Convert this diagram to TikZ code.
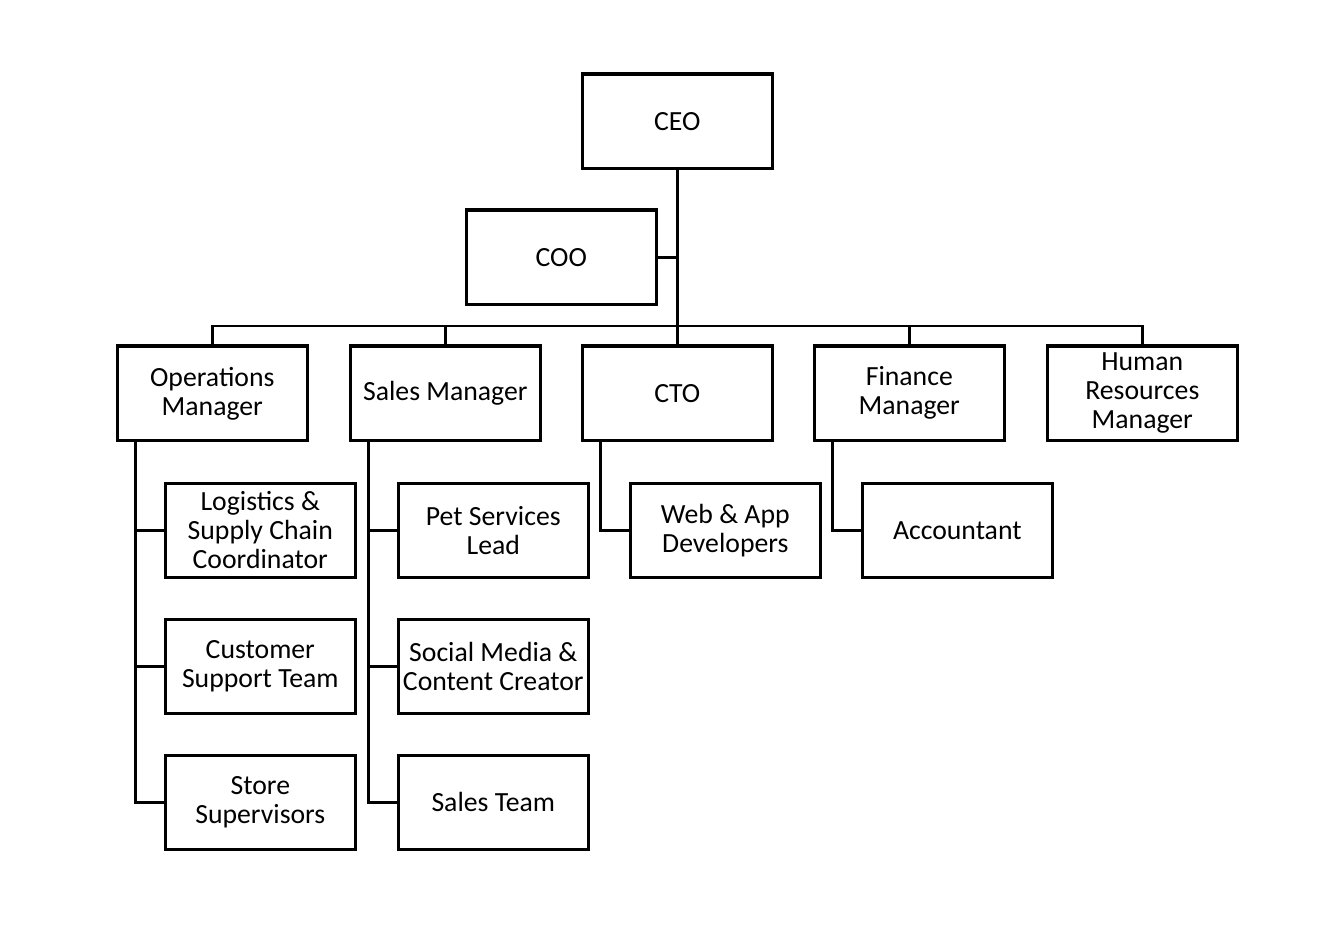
\documentclass[tikz,border=0pt]{standalone}
\usepackage{fontspec}
\setmainfont{Carlito}
\begin{document}
\begin{tikzpicture}[x=0.75pt,y=-0.75pt,
  bx/.style={draw,line width=2.3pt,minimum width=142.9pt,minimum height=70.9pt,inner sep=0pt,align=center,font=\fontsize{20.8}{21.75}\selectfont,anchor=north west},
  conn/.style={line width=2.2pt}]
\useasboundingbox (0,0) rectangle (1341,948);
\node[bx] (ceo) at (580.5,72.5) {CEO};
\node[bx] (coo) at (464.5,208.5) {COO};
\node[bx] (ops) at (115.5,344.5) {Operations\\Manager};
\node[bx] (sal) at (348.5,344.5) {Sales Manager};
\node[bx] (cto) at (580.5,344.5) {CTO};
\node[bx] (fin) at (812.5,344.5) {Finance\\Manager};
\node[bx] (hr) at (1045.5,344.5) {Human\\Resources\\Manager};
\node[bx] (log) at (163.5,481.5) {Logistics \&\\Supply Chain\\Coordinator};
\node[bx] (cus) at (163.5,617.5) {Customer\\Support Team};
\node[bx] (sto) at (163.5,753.5) {Store\\Supervisors};
\node[bx] (pet) at (396.5,481.5) {Pet Services\\Lead};
\node[bx] (soc) at (396.5,617.5) {Social Media \&\\Content Creator};
\node[bx] (st) at (396.5,753.5) {Sales Team};
\node[bx] (web) at (628.5,481.5) {Web \&\ App\\Developers};
\node[bx] (acc) at (860.5,481.5) {Accountant};
\path (ceo.south |- ops.north) ++(0,-18.5) coordinate (bus);
\draw[conn] (ceo.south) -- (bus);
\draw[conn] (coo.east) -- (coo.east -| ceo.south);
\draw[conn] (ops.north) |- (bus) -| (hr.north);
\draw[conn] (sal.north) -- (sal.north |- bus);
\draw[conn] (cto.north) -- (cto.north |- bus);
\draw[conn] (fin.north) -- (fin.north |- bus);
\draw[conn] ([xshift=-57.75pt]ops.south) |- (sto.west);
\draw[conn] ([xshift=-57.75pt]ops.south |- log.west) -- (log.west);
\draw[conn] ([xshift=-57.75pt]ops.south |- cus.west) -- (cus.west);
\draw[conn] ([xshift=-57.75pt]sal.south) |- (st.west);
\draw[conn] ([xshift=-57.75pt]sal.south |- pet.west) -- (pet.west);
\draw[conn] ([xshift=-57.75pt]sal.south |- soc.west) -- (soc.west);
\draw[conn] ([xshift=-57.75pt]cto.south) |- (web.west);
\draw[conn] ([xshift=-57.75pt]fin.south) |- (acc.west);
\end{tikzpicture}
\end{document}
